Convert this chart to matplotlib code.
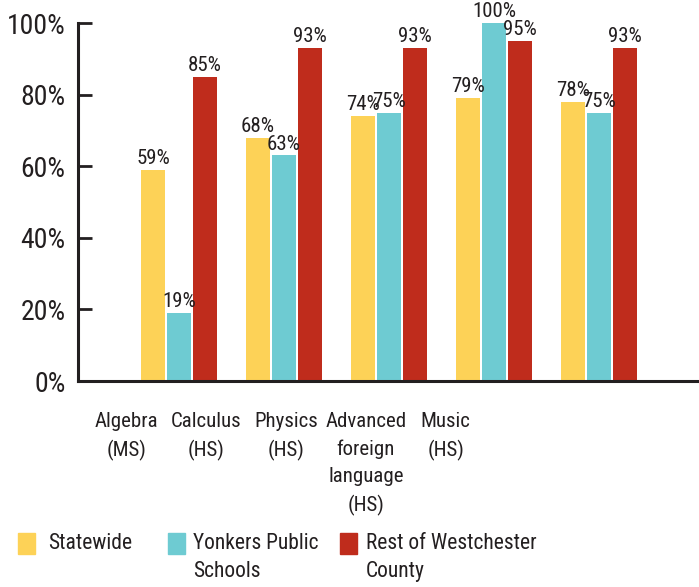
import numpy as np
import matplotlib.pyplot as plt
import matplotlib.font_manager as fm
from matplotlib.patches import Rectangle

# pick a condensed face if one is installed
installed = set(f.name for f in fm.fontManager.ttflist)
for cand in ['Roboto Condensed', 'Archivo Narrow', 'PT Sans Narrow',
             'Fira Sans Condensed', 'Barlow Semi Condensed', 'Liberation Sans Narrow']:
    if cand in installed:
        font = cand
        break
else:
    font = 'DejaVu Sans'
plt.rcParams['font.family'] = [font, 'DejaVu Sans']

# data
categories = ['Algebra\n(MS)', 'Calculus\n(HS)', 'Physics\n(HS)',
              'Advanced\nforeign\nlanguage\n(HS)', 'Music\n(HS)']
series_names = ['Statewide', 'Yonkers Public\nSchools', 'Rest of Westchester\nCounty']
statewide = [59, 68, 74, 79, 78]
yonkers = [19, 63, 75, 100, 75]
westchester = [85, 93, 93, 95, 93]
yticks = [0, 20, 40, 60, 80, 100]

colors = ['#FDD257', '#6ECBD2', '#BF2C1C']
txt = '#231F20'

fig = plt.figure(figsize=(6.99, 5.87), dpi=100)
ax = fig.add_axes([78 / 699, 206 / 587, 621 / 699, 358 / 587])

x = np.arange(len(categories))
step = 0.248
width = 0.229
for j, vals in enumerate([statewide, yonkers, westchester]):
    xs = x + (j - 1) * step
    ax.bar(xs, vals, width=width, color=colors[j], zorder=2)
    for xi, v in zip(xs, vals):
        ax.text(xi, v + 0.5, '%d%%' % v, ha='center', va='bottom',
                fontsize=15, color=txt, clip_on=False)

ax.set_xlim(-0.962, 4.952)
ax.set_ylim(0, 100)
ax.set_yticks(yticks)
ax.set_yticklabels(['%d%%' % t for t in yticks])
ax.tick_params(axis='y', direction='in', length=10, width=2, pad=9,
               labelsize=20, colors=txt)

# category labels sit left of their bar groups in the original
label_x = x * 0.76 - 0.5
ax.set_xticks(label_x)
ax.set_xticklabels(categories, fontsize=15, color=txt, linespacing=1.55)
ax.tick_params(axis='x', length=0, pad=22)

for s in ['top', 'right']:
    ax.spines[s].set_visible(False)
ax.spines['left'].set_linewidth(2.2)
ax.spines['bottom'].set_linewidth(2.2)
ax.spines['left'].set_color(txt)
ax.spines['bottom'].set_color(txt)
ax.spines['bottom'].set_zorder(3)

# legend
leg_sq = [18, 168, 340]
leg_tx = [48, 193, 366]
for j in range(3):
    fig.patches.append(Rectangle((leg_sq[j] / 699, 1 - 554 / 587), 17 / 699, 21 / 587,
                                 transform=fig.transFigure, color=colors[j]))
    fig.text(leg_tx[j] / 699, 1 - 533 / 587, series_names[j], ha='left', va='top',
             fontsize=15.5, color=txt, linespacing=1.42)

fig.savefig('out.png', dpi=100)
